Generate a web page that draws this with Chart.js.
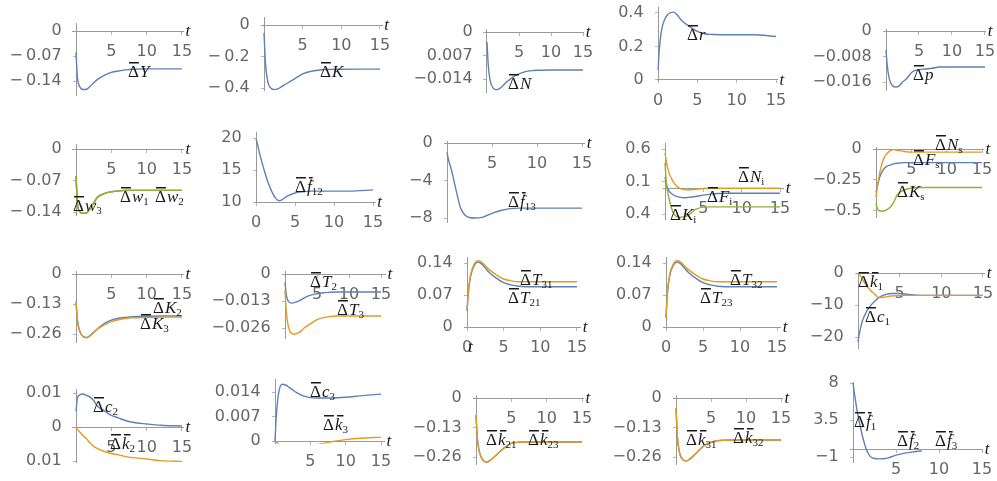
<!DOCTYPE html>
<html>
<head>
<meta charset="utf-8">
<script src="https://cdn.jsdelivr.net/npm/chart.js@4.4.1/dist/chart.umd.min.js"></script>
<style>
  html, body { margin: 0; padding: 0; background: #fff; overflow: hidden; }
  body { position: relative; width: 997px; height: 481px; }
  canvas { position: absolute; left: -40px; top: -40px; }
</style>
</head>
<body>
<script>
// time grid shared by every response
const tGrid = [0, 0.2, 0.5, 1, 1.5, 2, 2.5, 3, 4, 5, 6, 7, 8, 10, 12, 15];

// row 1
const dY   = [-0.06, -0.13, -0.155, -0.164, -0.163, -0.155, -0.145, -0.136, -0.124, -0.116, -0.112, -0.109, -0.107, -0.106, -0.106, -0.106];
const dK   = [-0.05, -0.25, -0.36, -0.405, -0.41, -0.4, -0.385, -0.37, -0.34, -0.31, -0.295, -0.287, -0.283, -0.281, -0.28, -0.28];
const dN   = [-0.003, -0.01, -0.0145, -0.0168, -0.0172, -0.0168, -0.016, -0.015, -0.0135, -0.0125, -0.0118, -0.0115, -0.0114, -0.0113, -0.0113, -0.0113];
const dR   = [0.06, 0.2, 0.31, 0.375, 0.4, 0.405, 0.385, 0.355, 0.32, 0.29, 0.275, 0.272, 0.27, 0.27, 0.27, 0.26];
const dP   = [-0.006, -0.011, -0.015, -0.0172, -0.0176, -0.0172, -0.016, -0.0152, -0.0128, -0.0121, -0.0119, -0.0117, -0.0113, -0.0113, -0.0113, -0.0113];
// row 2
const dW1  = [-0.06, -0.12, -0.138, -0.143, -0.142, -0.132, -0.12, -0.108, -0.099, -0.095, -0.093, -0.092, -0.092, -0.092, -0.092, -0.092];
const dW2  = [-0.06, -0.12, -0.138, -0.143, -0.142, -0.132, -0.12, -0.108, -0.099, -0.095, -0.093, -0.092, -0.092, -0.092, -0.092, -0.092];
const dW3  = [-0.06, -0.12, -0.138, -0.143, -0.142, -0.132, -0.12, -0.108, -0.099, -0.095, -0.093, -0.092, -0.092, -0.092, -0.092, -0.092];
const dF12 = [19.8, 19.0, 17.4, 15.2, 13.2, 11.7, 10.6, 10.2, 10.9, 11.4, 11.6, 11.7, 11.7, 11.7, 11.7, 11.9];
const dF13 = [-1, -1.9, -2.9, -5, -6.9, -7.7, -7.95, -8.0, -7.9, -7.5, -7.2, -7.0, -6.95, -6.95, -6.95, -6.95];
const dNi  = [0.54, 0.39, 0.24, 0.11, 0.03, -0.01, -0.025, -0.03, -0.02, -0.008, -0.004, -0.003, -0.003, -0.003, -0.003, -0.003];
const dFi  = [0.17, 0.05, -0.04, -0.1, -0.13, -0.145, -0.15, -0.145, -0.13, -0.11, -0.095, -0.085, -0.08, -0.08, -0.08, -0.08];
const dKi  = [0.38, 0.05, -0.15, -0.36, -0.44, -0.45, -0.44, -0.42, -0.33, -0.295, -0.29, -0.29, -0.29, -0.29, -0.29, -0.29];
const dNs  = [-0.39, -0.3, -0.2, -0.09, -0.04, -0.015, -0.005, -0.01, -0.02, -0.025, -0.025, -0.025, -0.025, -0.025, -0.025, -0.025];
const dFs  = [-0.35, -0.3, -0.23, -0.17, -0.14, -0.13, -0.12, -0.115, -0.11, -0.11, -0.11, -0.11, -0.11, -0.11, -0.11, -0.11];
const dKs  = [-0.44, -0.48, -0.5, -0.5, -0.49, -0.47, -0.43, -0.37, -0.33, -0.315, -0.31, -0.31, -0.31, -0.31, -0.31, -0.31];
// row 3
const dK2  = [-0.12, -0.2, -0.245, -0.271, -0.275, -0.266, -0.253, -0.238, -0.215, -0.2, -0.192, -0.188, -0.185, -0.183, -0.182, -0.182];
const dK3  = [-0.12, -0.2, -0.245, -0.272, -0.277, -0.268, -0.255, -0.24, -0.22, -0.206, -0.198, -0.193, -0.19, -0.188, -0.187, -0.187];
const dT2  = [-0.004, -0.01, -0.013, -0.014, -0.0138, -0.0132, -0.0125, -0.0115, -0.0102, -0.0095, -0.009, -0.0088, -0.0087, -0.0087, -0.0087, -0.0087];
const dT3  = [-0.0077, -0.018, -0.025, -0.0285, -0.029, -0.0285, -0.0275, -0.026, -0.024, -0.022, -0.021, -0.0205, -0.0202, -0.0202, -0.0202, -0.0202];
const dT21 = [0.035, 0.078, 0.112, 0.135, 0.142, 0.138, 0.129, 0.12, 0.107, 0.097, 0.092, 0.089, 0.088, 0.088, 0.088, 0.088];
const dT31 = [0.037, 0.08, 0.115, 0.138, 0.145, 0.142, 0.134, 0.126, 0.114, 0.105, 0.101, 0.099, 0.099, 0.099, 0.099, 0.099];
const dT23 = [0.02, 0.075, 0.112, 0.135, 0.142, 0.138, 0.129, 0.12, 0.107, 0.097, 0.092, 0.089, 0.088, 0.088, 0.088, 0.088];
const dT32 = [0.022, 0.078, 0.115, 0.138, 0.145, 0.142, 0.134, 0.126, 0.114, 0.105, 0.101, 0.099, 0.099, 0.099, 0.099, 0.099];
const dc1  = [-21.5, -18.5, -15.2, -12.2, -10.2, -8.8, -7.7, -7.0, -6.4, -6.4, -6.7, -6.9, -7.0, -7.0, -7.0, -7.0];
const dk1  = [0, -0.5, -1.9, -3.8, -5.5, -6.6, -7.7, -7.6, -7.2, -7.0, -7.0, -7.0, -7.0, -7.0, -7.0, -7.0];
// row 4
const dc2  = [0.0047, 0.0085, 0.0094, 0.0097, 0.0093, 0.0088, 0.0078, 0.0062, 0.0048, 0.0034, 0.0027, 0.0019, 0.0014, 0.0009, 0.0005, 0.0003];
const dk2  = [0, -0.0006, -0.0014, -0.0025, -0.0035, -0.0048, -0.0057, -0.0063, -0.0072, -0.0078, -0.0082, -0.0087, -0.009, -0.0094, -0.0099, -0.0101];
const dc3  = [0, 0.0075, 0.0135, 0.0162, 0.016, 0.0153, 0.0146, 0.0139, 0.0129, 0.0124, 0.0123, 0.0123, 0.0123, 0.0125, 0.0129, 0.0134];
const dk3  = [0, -0.0004, -0.0008, -0.0012, -0.0015, -0.0017, -0.0017, -0.0016, -0.0014, -0.0012, -0.001, -0.0006, -0.0002, 0.0004, 0.0008, 0.0011];
const dk21 = [-0.075, -0.18, -0.24, -0.275, -0.282, -0.275, -0.262, -0.248, -0.22, -0.2, -0.195, -0.194, -0.194, -0.194, -0.194, -0.194];
const dk23 = [-0.075, -0.18, -0.24, -0.275, -0.282, -0.275, -0.262, -0.248, -0.22, -0.2, -0.195, -0.194, -0.194, -0.194, -0.194, -0.194];
const dk31 = [-0.045, -0.17, -0.24, -0.272, -0.277, -0.268, -0.255, -0.24, -0.21, -0.195, -0.188, -0.186, -0.185, -0.185, -0.185, -0.185];
const dk32 = [-0.045, -0.17, -0.24, -0.272, -0.277, -0.268, -0.255, -0.24, -0.21, -0.195, -0.188, -0.186, -0.185, -0.185, -0.185, -0.185];
const df1  = [8.0, 6.5, 4.5, 2.0, 0.1, -0.9, -1.15, -1.2, -1.1, -0.75, -0.5, -0.35, -0.25, null, null, null];

// ticks
const xT  = [5, 10, 15];
const xT0 = [0, 5, 10, 15];
const yT_Y = [0, -0.07, -0.14],     yL_Y = ['0', '−\u20090.07', '−\u20090.14'];
const yT_K = [0, -0.2, -0.4],       yL_K = ['0', '−\u20090.2', '−\u20090.4'];
const yT_N = [0, -0.007, -0.014],   yL_N = ['0', '0.007', '−0.014'];
const yT_r = [0, 0.2, 0.4],         yL_r = ['0', '0.2', '0.4'];
const yT_p = [0, -0.008, -0.016],   yL_p = ['0', '−0.008', '−0.016'];
const yT_w = [0, -0.07, -0.14],     yL_w = ['0', '−\u20090.07', '−\u20090.14'];
const yT_f12 = [10, 15, 20],        yL_f12 = ['10', '15', '20'];
const yT_f13 = [0, -4, -8],         yL_f13 = ['0', '−4', '−8'];
const yT_i = [0.6, 0.1, -0.4],      yL_i = ['0.6', '0.1', '0.4'];
const yT_s = [0, -0.25, -0.5],      yL_s = ['0', '−0.25', '−0.5'];
const yT_K23 = [0, -0.13, -0.26],   yL_K23 = ['0', '−\u20090.13', '−\u20090.26'];
const yT_T = [0, -0.013, -0.026],   yL_T = ['0', '−0.013', '−0.026'];
const yT_Tij = [0, 0.07, 0.14],     yL_Tij = ['0', '0.07', '0.14'];
const yT_1 = [0, -10, -20],         yL_1 = ['0', '−10', '−20'];
const yT_2 = [0.01, 0, -0.01],      yL_2 = ['0.01', '0', '0.01'];
const yT_3 = [0.014, 0.007, 0],     yL_3 = ['0.014', '0.007', '0'];
const yT_kij = [0, -0.13, -0.26],   yL_kij = ['0', '−0.13', '−0.26'];
const yT_f = [8, 3.5, -1],          yL_f = ['8', '3.5', '−1'];

const BLUE = '#5E81B5', ORANGE = '#E19C24', GREEN = '#8FB032';
const M = 40, W = 997 + 2 * M, H = 481 + 2 * M;
// gap between y tick labels and the y axis (object-positioned axes ignore ticks.padding)
const Y_GAP = '\u2002\u2009\u2009';

// ox/x15: page pixels of t=0 and t=15; ya/yb: [value, page pixel] pairs
const panels = [
  {ox: 76, x15: 182, ya: [0, 31], yb: [-0.14, 81], xr: [-0.5, 15.2], yr: [-0.18, 0.02], axisY: 0, xt: xT, yt: yT_Y, yl: yL_Y,
   series: [[dY, BLUE]], labels: [[128, 77, 'Y']]},
  {ox: 264, x15: 380, ya: [0, 25], yb: [-0.4, 88], xr: [-0.3, 15.3], yr: [-0.415, 0.045], axisY: 0, xt: xT, yt: yT_K, yl: yL_K,
   series: [[dK, BLUE]], labels: [[320, 77, 'K']]},
  {ox: 487, x15: 583, ya: [0, 32], yb: [-0.014, 79], xr: [-0.3, 15.1], yr: [-0.0179, 0.0006], axisY: 0, xt: xT, yt: yT_N, yl: yL_N,
   series: [[dN, BLUE]], labels: [[508, 89, 'N']]},
  {ox: 658, x15: 776, ya: [0, 80], yb: [0.4, 13], xr: [-0.1, 15.2], yr: [-0.005, 0.43], axisY: 0, xt: xT0, yt: yT_r, yl: yL_r,
   series: [[dR, BLUE]], labels: [[687, 40, 'r']]},
  {ox: 886, x15: 985, ya: [0, 31], yb: [-0.016, 82], xr: [-0.2, 15.1], yr: [-0.0186, 0.0006], axisY: 0, xt: xT, yt: yT_p, yl: yL_p,
   series: [[dP, BLUE]], labels: [[913, 80, 'p']]},

  {ox: 76, x15: 182, ya: [0, 149], yb: [-0.14, 212], xr: [-0.5, 15.2], yr: [-0.148, 0.01], axisY: 0, xt: xT, yt: yT_w, yl: yL_w,
   series: [[dW1, BLUE], [dW2, ORANGE], [dW3, GREEN]], labels: [[73, 211, 'w', '3'], [120, 202, 'w', '1'], [155, 202, 'w', '2']]},
  {ox: 256, x15: 373, ya: [10, 202], yb: [20, 138], xr: [-0.1, 15.3], yr: [9.9, 20.8], axisY: 10, xt: xT0, yt: yT_f12, yl: yL_f12,
   series: [[dF12, BLUE]], labels: [[295, 192, 'f', '12', 'bd']]},
  {ox: 447, x15: 582, ya: [0, 143], yb: [-8, 218], xr: [-0.2, 15.3], yr: [-8.5, 0.2], axisY: 0, xt: xT, yt: yT_f13, yl: yL_f13,
   series: [[dF13, BLUE]], labels: [[508, 207, 'f', '13', 'bd']]},
  {ox: 665, x15: 780, ya: [0, 188], yb: [0.6, 149], xr: [-0.2, 15.5], yr: [-0.49, 0.69], axisY: 0, xt: xT, yt: yT_i, yl: yL_i,
   series: [[dFi, BLUE], [dNi, ORANGE], [dKi, GREEN]], labels: [[738, 182, 'N', 'i'], [707, 202, 'F', 'i'], [670, 220, 'K', 'i']]},
  {ox: 876, x15: 982, ya: [0, 149], yb: [-0.5, 211], xr: [-0.3, 15.2], yr: [-0.55, 0.016], axisY: 0, xt: xT, yt: yT_s, yl: yL_s,
   series: [[dFs, BLUE], [dNs, ORANGE], [dKs, GREEN]], labels: [[935, 150, 'N', 's'], [913, 165, 'F', 's'], [897, 197, 'K', 's']]},

  {ox: 76, x15: 182, ya: [0, 274], yb: [-0.26, 334], xr: [-0.5, 15.2], yr: [-0.295, 0.009], axisY: 0, xt: xT, yt: yT_K23, yl: yL_K23,
   series: [[dK2, BLUE], [dK3, ORANGE]], labels: [[153, 313, 'K', '2'], [140, 329, 'K', '3']]},
  {ox: 285, x15: 381, ya: [0, 274], yb: [-0.026, 328], xr: [-0.2, 15.7], yr: [-0.031, 0.001], axisY: 0, xt: xT, yt: yT_T, yl: yL_T,
   series: [[dT2, BLUE], [dT3, ORANGE]], labels: [[310, 287, 'T', '2'], [337, 315, 'T', '3']]},
  {ox: 467, x15: 577, ya: [0, 327], yb: [0.14, 263], xr: [-0.3, 15.5], yr: [-0.002, 0.153], axisY: 0, xt: xT0, yt: yT_Tij, yl: yL_Tij,
   series: [[dT21, BLUE], [dT31, ORANGE]], labels: [[520, 285, 'T', '31'], [508, 303, 'T', '21'], [468, 352, 't', '', 'p']]},
  {ox: 666, x15: 777, ya: [0, 327], yb: [0.14, 263], xr: [-0.3, 15.5], yr: [-0.002, 0.153], axisY: 0, xt: xT0, yt: yT_Tij, yl: yL_Tij,
   series: [[dT23, BLUE], [dT32, ORANGE]], labels: [[730, 285, 'T', '32'], [700, 303, 'T', '23']]},
  {ox: 858, x15: 983, ya: [0, 273], yb: [-20, 337], xr: [-0.2, 15.2], yr: [-23.5, 0.3], axisY: 0, xt: xT, yt: yT_1, yl: yL_1,
   series: [[dc1, BLUE], [dk1, ORANGE]], labels: [[858, 287, 'k', '1', 'b'], [865, 322, 'c', '1']]},

  {ox: 76, x15: 182, ya: [0, 427], yb: [0.01, 393], xr: [-0.5, 15.2], yr: [-0.0105, 0.011], axisY: 0, xt: xT, yt: yT_2, yl: yL_2,
   series: [[dc2, BLUE], [dk2, ORANGE]], labels: [[93, 412, 'c', '2'], [110, 449, 'k', '2', 'b']]},
  {ox: 275, x15: 381, ya: [0, 441], yb: [0.014, 392], xr: [-0.2, 15.5], yr: [-0.0008, 0.0175], axisY: 0, xt: xT, yt: yT_3, yl: yL_3,
   series: [[dc3, BLUE], [dk3, ORANGE]], labels: [[310, 397, 'c', '3'], [323, 430, 'k', '3', 'b']]},
  {ox: 476, x15: 582, ya: [0, 398], yb: [-0.26, 457], xr: [-0.4, 15.2], yr: [-0.295, 0.013], axisY: 0, xt: xT, yt: yT_kij, yl: yL_kij,
   series: [[dk21, BLUE], [dk23, ORANGE]], labels: [[486, 445, 'k', '21', 'b'], [528, 445, 'k', '23', 'b']]},
  {ox: 676, x15: 781, ya: [0, 398], yb: [-0.26, 457], xr: [-0.4, 15.2], yr: [-0.295, 0.013], axisY: 0, xt: xT, yt: yT_kij, yl: yL_kij,
   series: [[dk31, BLUE], [dk32, ORANGE]], labels: [[686, 445, 'k', '31', 'b'], [733, 443, 'k', '32', 'b']]},
  {ox: 853, x15: 982, ya: [0, 449], yb: [8, 383], xr: [-0.3, 15.1], yr: [-1.6, 8.1], axisY: 0, xt: xT, yt: yT_f, yl: yL_f,
   series: [[df1, BLUE]], labels: [[854, 427, 'f', '1', 'bd'], [897, 446, 'f', '2', 'bd'], [935, 446, 'f', '3', 'bd']]}
];

// Δ with overbar, italic letter, optional bar / dot over letter, subscript
function drawTag(ctx, x, y, letter, sub, flags) {
  ctx.fillStyle = '#1a1a1a';
  if (flags.includes('p')) {
    ctx.font = 'italic 17px "Liberation Serif"';
    ctx.fillText(letter, x, y);
    return;
  }
  ctx.font = '17px "Liberation Serif"';
  const dw = ctx.measureText('Δ').width;
  ctx.fillText('Δ', x, y);
  ctx.fillRect(x + 1, y - 15, dw - 1, 1.5);
  ctx.font = 'italic 17px "Liberation Serif"';
  const lx = x + dw + 1;
  const lw = ctx.measureText(letter).width;
  ctx.fillText(letter, lx, y);
  if (flags.includes('b')) ctx.fillRect(lx + 2, y - 15, lw - 1, 1.5);
  if (flags.includes('d')) ctx.fillRect(lx + lw / 2 + 1, y - 12.5, 1.8, 1.8);
  if (sub) {
    ctx.font = '11px "Liberation Serif"';
    ctx.fillText(sub, lx + lw, y + 3);
  }
}

function makeTexts(p) {
  return {
    id: 'texts',
    afterDraw(chart) {
      const {ctx, chartArea, scales} = chart;
      ctx.save();
      ctx.fillStyle = '#1a1a1a';
      ctx.font = 'italic 17px "Liberation Serif"';
      ctx.textAlign = 'left';
      ctx.textBaseline = 'middle';
      ctx.fillText('t', chartArea.right + 2, scales.y.getPixelForValue(p.axisY) + 1);
      ctx.textBaseline = 'alphabetic';
      p.labels.forEach(l => drawTag(ctx, l[0] + M, l[1] + M, l[2], l[3] || '', l[4] || ''));
      ctx.restore();
    }
  };
}

const tickFont = {family: '"DejaVu Sans"', size: 16};

panels.forEach(p => {
  const cv = document.createElement('canvas');
  cv.width = W;
  cv.height = H;
  document.body.appendChild(cv);

  const sx = (p.x15 - p.ox) / 15;
  const k = (p.yb[1] - p.ya[1]) / (p.yb[0] - p.ya[0]);
  const py = v => p.ya[1] + (v - p.ya[0]) * k;
  const left = p.ox + sx * p.xr[0], right = p.ox + sx * p.xr[1];
  const top = py(p.yr[1]), bottom = py(p.yr[0]);

  new Chart(cv, {
    type: 'line',
    data: {
      // first series ends up on the bottom, like Mathematica
      datasets: p.series.slice().reverse().map(s => ({
        data: tGrid.map((t, i) => ({x: t, y: s[0][i]})),
        borderColor: s[1],
        borderWidth: 1.4,
        pointRadius: 0,
        fill: false,
        cubicInterpolationMode: 'monotone'
      }))
    },
    options: {
      responsive: false,
      animation: false,
      events: [],
      layout: {padding: {left: left + M, top: top + M, right: W - right - M, bottom: H - bottom - M}},
      plugins: {legend: {display: false}, tooltip: {enabled: false}},
      scales: {
        x: {
          type: 'linear', min: p.xr[0], max: p.xr[1], bounds: 'data',
          position: {y: p.axisY},
          afterBuildTicks: sc => { sc.ticks = p.xt.map(v => ({value: v})); },
          grid: {display: true, drawOnChartArea: false, drawTicks: true, tickLength: 3, color: '#b5b5b5'},
          border: {display: true, color: '#9a9a9a', width: 1},
          ticks: {autoSkip: false, maxRotation: 0, minRotation: 0, padding: 8, color: '#666', font: tickFont,
                  callback: v => String(v)}
        },
        y: {
          type: 'linear', min: p.yr[0], max: p.yr[1], bounds: 'data',
          position: {x: 0},
          afterBuildTicks: sc => { sc.ticks = p.yt.slice().sort((a, b) => a - b).map(v => ({value: v})); },
          grid: {display: true, drawOnChartArea: false, drawTicks: true, tickLength: 3, color: '#b5b5b5'},
          border: {display: true, color: '#9a9a9a', width: 1},
          ticks: {autoSkip: false, padding: 11, color: '#666', font: tickFont,
                  callback: v => p.yl[p.yt.indexOf(v)] + Y_GAP}
        }
      }
    },
    plugins: [makeTexts(p)]
  });
});
</script>
</body>
</html>
